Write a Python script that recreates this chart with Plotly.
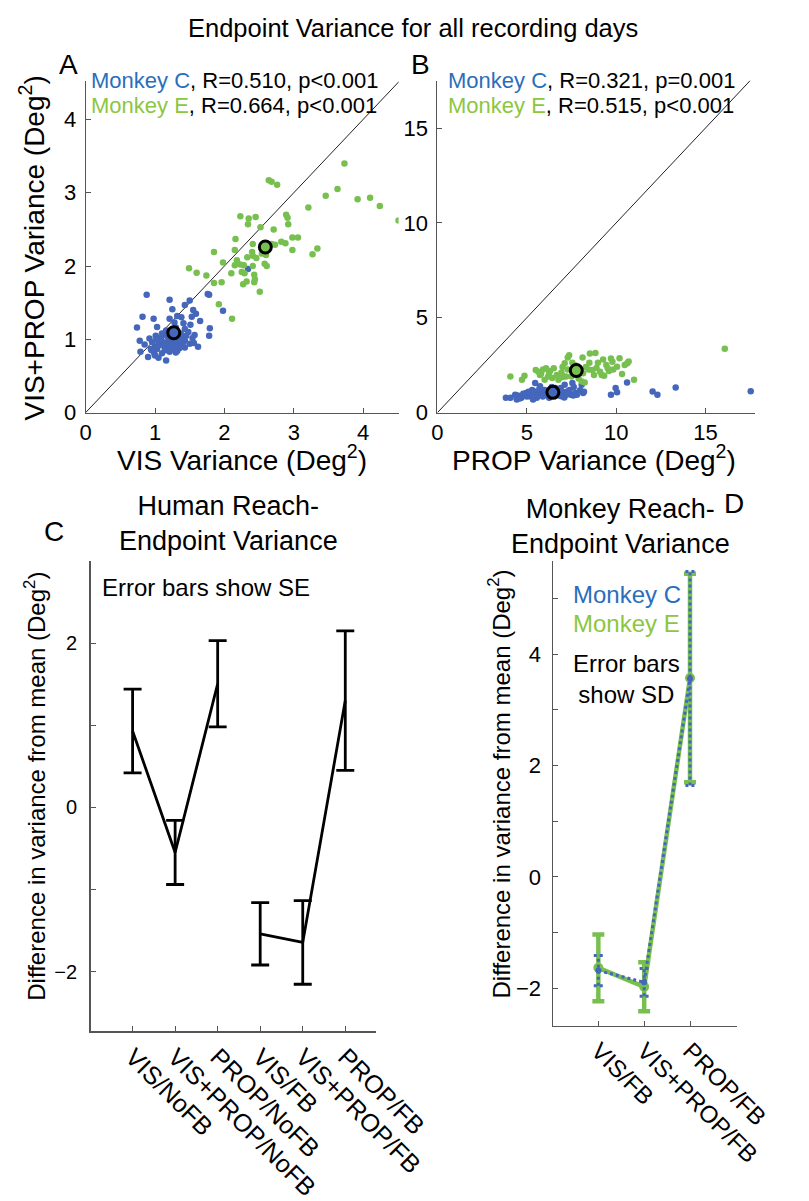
import plotly.graph_objects as go

W, H = 809, 1201
FONT = "Liberation Sans, Arial, sans-serif"
BLUE_PT = "#4466bb"
GREEN_PT = "#77c04f"
BLUE_TXT = "#2a6ebb"
GREEN_TXT = "#8dc63f"
AXC = "#555555"

# ---------------- Panel A data: VIS variance vs VIS+PROP variance ----------------
a_c_vis = [0.88,1.21,1.50,1.43,1.76,1.78,1.25,1.55,1.59,1.53,1.65,0.82,0.98,1.32,0.74,1.03,1.28,1.41,1.51,1.43,
           1.79,1.78,1.57,0.78,0.92,1.01,1.12,1.54,1.62,1.56,1.43,1.34,1.21,1.12,1.03,0.94,0.85,0.79,0.90,1.05,
           1.16,1.32,1.43,1.21,1.10,1.50,0.99,1.25,1.08,1.19,1.39,1.48,1.30,1.16,1.21,1.38,1.98,2.34,
           1.10,1.20,1.30,1.15,1.25,1.35,1.00,1.05,1.40,1.20,1.10,1.30,1.00,0.95,1.45,1.35,1.06,1.14,1.24,1.29,
           1.37,0.96,1.18,1.27,1.33,1.09,1.22,1.42,1.02,1.16]
a_c_vp = [1.61,1.54,1.53,1.47,1.62,1.61,1.41,1.40,1.35,1.31,1.25,1.31,1.28,1.32,1.16,1.17,1.23,1.22,1.20,1.14,
          1.15,1.05,1.06,0.98,1.01,1.05,1.06,1.02,0.90,0.95,0.98,0.93,0.90,0.96,0.87,0.87,0.93,0.83,0.76,0.75,
          0.71,0.84,0.89,0.83,0.81,0.94,0.81,0.96,1.01,1.03,1.05,1.10,1.16,1.12,1.28,1.30,1.39,1.96,
          0.95,1.00,1.05,0.85,0.90,1.00,0.90,0.95,0.95,1.10,1.08,0.82,0.78,0.85,1.05,0.88,0.92,0.88,0.98,0.93,
          1.08,0.96,1.04,0.86,0.97,0.99,0.92,1.00,1.00,0.94]
a_e_vis = [3.73,3.63,3.46,3.92,4.10,4.24,4.51,3.21,2.64,2.68,2.76,2.23,2.35,2.45,2.34,2.52,2.89,2.91,2.92,2.71,
           2.16,2.15,2.41,2.55,2.54,2.68,2.73,2.82,2.88,2.98,3.06,2.98,3.27,3.34,1.85,1.98,2.18,2.28,2.40,2.41,
           2.33,2.46,2.60,2.58,2.61,2.15,2.23,2.41,2.10,2.25,2.29,2.43,2.44,2.32,2.27,1.74,1.60,1.49,1.85,1.96,
           2.43,2.51,1.92,2.11,2.60]
a_e_vp = [3.40,3.05,2.96,2.91,2.93,2.82,2.62,2.80,3.17,3.15,3.11,2.68,2.65,2.67,2.57,2.53,2.70,2.66,2.57,2.50,
          2.37,2.22,2.30,2.26,2.17,2.30,2.29,2.33,2.31,2.39,2.39,2.22,2.16,2.24,2.19,2.05,2.08,2.01,2.19,2.14,
          2.12,2.11,2.15,2.03,2.00,2.01,2.02,2.00,1.90,1.92,1.90,1.88,1.82,1.79,1.75,1.87,1.91,1.97,1.77,1.78,
          1.78,1.65,1.48,1.28,2.22]
a_mean_c = (1.27, 1.09)
a_mean_e = (2.59, 2.26)
a_max = 4.53

# ---------------- Panel B data: PROP variance vs VIS+PROP variance ----------------
b_c_prop = [3.83,4.09,4.35,4.44,4.70,4.96,5.13,5.39,5.47,5.74,5.56,5.91,6.08,6.25,6.60,6.86,7.03,7.12,7.29,7.55,
            7.63,7.72,7.98,8.15,8.07,7.46,6.94,6.42,9.71,9.97,10.05,10.61,12.04,12.31,13.33,17.53,
            4.5,4.8,5.0,5.2,5.3,5.5,5.6,5.8,5.9,6.0,6.1,6.2,6.3,6.5,6.7,6.8,7.0,7.2,7.4,7.6,8.2,
            4.6,5.1,5.7,6.4,6.9,7.1,7.8,5.35]
b_c_vp = [0.78,0.78,0.95,0.69,0.78,1.04,0.87,1.13,1.56,1.39,0.78,0.95,1.13,0.78,1.30,1.21,1.91,1.47,1.13,1.56,
          1.35,1.04,1.18,1.04,1.47,0.95,0.87,0.95,0.95,1.30,1.07,1.59,1.11,0.95,1.33,1.13,
          0.9,1.0,0.85,0.95,1.2,1.0,0.9,1.1,0.85,1.2,0.95,1.05,0.9,1.2,1.0,0.9,1.1,0.95,1.2,0.9,1.1,
          0.75,1.1,1.25,1.35,1.3,0.8,0.95,0.7]
b_e_prop = [4.08,4.73,4.87,5.65,5.91,6.08,6.25,6.51,6.68,6.94,6.42,7.12,7.37,7.29,7.55,8.12,8.53,8.84,8.50,8.98,
            9.27,9.71,9.79,10.19,10.48,10.62,9.45,9.53,9.10,8.46,8.67,8.76,9.33,9.84,10.33,8.15,8.07,8.24,11.0,7.29,
            7.50,6.0,5.74,6.77,7.20,7.81,9.19,10.05,16.08,
            5.8,6.3,6.9,7.0,7.7,8.3,8.9,9.6,6.2,5.5,7.9,10.7]
b_e_vp = [1.91,1.73,1.94,2.16,2.28,2.34,2.11,2.34,1.99,2.11,1.82,2.60,3.03,2.91,2.63,2.91,3.12,3.15,2.63,2.63,
          2.80,2.86,2.68,2.87,2.51,2.60,2.51,2.34,2.16,2.28,2.25,1.99,1.94,2.28,2.04,2.08,1.64,1.59,1.73,2.28,
          1.91,1.73,1.99,1.73,1.91,2.11,1.99,2.42,3.37,
          2.05,2.2,1.85,2.4,2.5,2.4,2.35,2.2,1.9,2.25,1.8,2.7]
b_mean_c = (6.46, 1.07)
b_mean_e = (7.77, 2.22)
b_xmax = 17.77
b_ymax = 17.5

# ---------------- Panel C data: human ----------------
c_cats = ["VIS/NoFB", "VIS+PROP/NoFB", "PROP/NoFB", "VIS/FB", "VIS+PROP/FB", "PROP/FB"]
c_mean = [0.93, -0.55, 1.505, -1.54, -1.645, 1.30]
c_se = [0.51, 0.39, 0.525, 0.38, 0.51, 0.85]

# ---------------- Panel D data: monkeys ----------------
d_cats = ["VIS/FB", "VIS+PROP/FB", "PROP/FB"]
d_mean_c = [-1.68, -1.89, 3.56]
d_sd_c = [0.27, 0.25, 1.92]
d_mean_e = [-1.63, -1.97, 3.57]
d_sd_e = [0.60, 0.44, 1.87]

c_pos = list(range(1, len(c_cats) + 1))
d_pos = list(range(1, len(d_cats) + 1))


def px(x):
    return x / W


def py(y):
    return 1 - y / H


fig = go.Figure()

# Panel A
fig.add_trace(go.Scatter(x=[0, a_max], y=[0, a_max], mode="lines", line=dict(color="#222", width=1),
                         xaxis="x", yaxis="y", hoverinfo="skip"))
fig.add_trace(go.Scatter(x=a_c_vis, y=a_c_vp, mode="markers", marker=dict(color=BLUE_PT, size=6.5),
                         xaxis="x", yaxis="y"))
fig.add_trace(go.Scatter(x=a_e_vis, y=a_e_vp, mode="markers", marker=dict(color=GREEN_PT, size=6.5),
                         xaxis="x", yaxis="y"))
for (mx, my), col in [(a_mean_c, BLUE_PT), (a_mean_e, GREEN_PT)]:
    fig.add_trace(go.Scatter(x=[mx], y=[my], mode="markers",
                             marker=dict(color=col, size=12, line=dict(color="black", width=3)),
                             xaxis="x", yaxis="y"))

# Panel B
diag_b = min(b_xmax, b_ymax)
fig.add_trace(go.Scatter(x=[0, diag_b], y=[0, diag_b], mode="lines", line=dict(color="#222", width=1),
                         xaxis="x2", yaxis="y2", hoverinfo="skip"))
fig.add_trace(go.Scatter(x=b_c_prop, y=b_c_vp, mode="markers", marker=dict(color=BLUE_PT, size=6.5),
                         xaxis="x2", yaxis="y2"))
fig.add_trace(go.Scatter(x=b_e_prop, y=b_e_vp, mode="markers", marker=dict(color=GREEN_PT, size=6.5),
                         xaxis="x2", yaxis="y2"))
for (mx, my), col in [(b_mean_c, BLUE_PT), (b_mean_e, GREEN_PT)]:
    fig.add_trace(go.Scatter(x=[mx], y=[my], mode="markers",
                             marker=dict(color=col, size=12, line=dict(color="black", width=3)),
                             xaxis="x2", yaxis="y2"))

# Panel C: two connected groups of three
for sl in (slice(0, 3), slice(3, 6)):
    fig.add_trace(go.Scatter(x=c_pos[sl], y=c_mean[sl], mode="lines",
                             line=dict(color="black", width=2.8),
                             error_y=dict(type="data", array=c_se[sl], color="black", thickness=2.8, width=9),
                             xaxis="x3", yaxis="y3"))

# Panel D: green solid under blue dotted
fig.add_trace(go.Scatter(x=d_pos, y=d_mean_e, mode="lines+markers",
                         line=dict(color=GREEN_PT, width=4.5),
                         marker=dict(color=GREEN_PT, size=10),
                         error_y=dict(type="data", array=d_sd_e, color=GREEN_PT, thickness=4.5, width=6),
                         xaxis="x4", yaxis="y4"))
eb_x, eb_y = [], []
cap = 0.1
for p, m, e in zip(d_pos, d_mean_c, d_sd_c):
    eb_x += [p, p, None, p - cap, p + cap, None, p - cap, p + cap, None]
    eb_y += [m - e, m + e, None, m + e, m + e, None, m - e, m - e, None]
fig.add_trace(go.Scatter(x=eb_x, y=eb_y, mode="lines", line=dict(color=BLUE_PT, width=3, dash="dot"),
                         xaxis="x4", yaxis="y4", hoverinfo="skip"))
fig.add_trace(go.Scatter(x=d_pos, y=d_mean_c, mode="lines+markers",
                         line=dict(color=BLUE_PT, width=3, dash="dot"),
                         marker=dict(color=BLUE_PT, size=6),
                         xaxis="x4", yaxis="y4"))

base_axis = dict(showgrid=False, zeroline=False, showline=True, linecolor=AXC, linewidth=1,
                 ticks="inside", ticklen=5, tickcolor=AXC, tickwidth=1,
                 tickfont=dict(family=FONT, size=22, color="black"))
minor_in = dict(ticks="inside", ticklen=5, tickcolor=AXC, tickwidth=1, showgrid=False)

fig.update_layout(
    width=W, height=H, margin=dict(l=0, r=0, t=0, b=0),
    paper_bgcolor="white", plot_bgcolor="white", showlegend=False,
    font=dict(family=FONT, color="black"),
    xaxis=dict(base_axis, domain=[px(86), px(424)], range=[0, 4.51], anchor="y",
               tickvals=[0, 1, 2, 3, 4]),
    yaxis=dict(base_axis, domain=[py(420), py(82)], range=[0, a_max], anchor="x",
               tickvals=[0, 1, 2, 3, 4], ticklabelstandoff=4),
    xaxis2=dict(base_axis, domain=[px(466), 1.0], range=[0, b_xmax], anchor="y2",
                tickvals=[0, 5, 10, 15]),
    yaxis2=dict(base_axis, domain=[py(420), py(82)], range=[0, b_ymax], anchor="x2",
                tickvals=[0, 5, 10, 15], ticklabelstandoff=4),
    xaxis3=dict(base_axis, domain=[px(91.7), px(400)], range=[0.02, 6.73], anchor="y3",
                tickvals=c_pos, ticktext=c_cats, tickangle=45, linewidth=1.5,
                tickfont=dict(family=FONT, size=25, color="black")),
    yaxis3=dict(base_axis, domain=[py(1049), py(571)], range=[-2.72, 3.0], anchor="x3", linewidth=1.5,
                tickvals=[-2, 0, 2], ticklabelstandoff=8,
                minor=dict(minor_in, tickvals=[-1, 1]),
                tickfont=dict(family=FONT, size=20, color="black")),
    xaxis4=dict(base_axis, domain=[px(590.3), px(789.3)], range=[0, 4.02], anchor="y4",
                tickvals=d_pos, ticktext=d_cats, tickangle=45,
                tickfont=dict(family=FONT, size=24, color="black")),
    yaxis4=dict(base_axis, domain=[py(1044.6), py(571)], range=[-2.68, 5.67], anchor="x4",
                tickvals=[-2, 0, 2, 4], ticktext=["\u22122", "0", "2", "4"],
                minor=dict(minor_in, tickvals=[-1, 1, 3, 5]),
                ticklabelstandoff=6),
)


def ann(text, x, y, size, xanchor="center", color="black", angle=0):
    fig.add_annotation(text=text, x=px(x), y=py(y), xref="paper", yref="paper",
                       xanchor=xanchor, yanchor="middle", showarrow=False, textangle=angle,
                       font=dict(family=FONT, size=size, color=color))


ann("Endpoint Variance for all recording days", 440, 28, 25.5)
ann("A", 68, 66, 28)
ann("B", 448, 66, 28)
ann(f"<span style='color:{BLUE_TXT}'>Monkey C</span>, R=0.510, p&lt;0.001", 90, 82, 22, xanchor="left")
ann(f"<span style='color:{GREEN_TXT}'>Monkey E</span>, R=0.664, p&lt;0.001", 90, 107, 22, xanchor="left")
ann(f"<span style='color:{BLUE_TXT}'>Monkey C</span>, R=0.321, p=0.001", 475, 82, 22, xanchor="left")
ann(f"<span style='color:{GREEN_TXT}'>Monkey E</span>, R=0.515, p&lt;0.001", 475, 107, 22, xanchor="left")
ann("VIS Variance (Deg<sup>2</sup>)", 255, 466, 28)
ann("PROP Variance (Deg<sup>2</sup>)", 635, 466, 28)
ann("VIS+PROP Variance (Deg<sup>2</sup>)", 28, 252, 28, angle=-90)

ann("C", 52, 541, 28)
ann("Human Reach-<br>Endpoint Variance", 240, 533, 27)
ann("Error bars show SE", 102, 598, 24, xanchor="left")
ann("Difference in variance from mean (Deg<sup>2</sup>)", 31, 800, 24, angle=-90)

ann("D", 786, 512, 28)
ann("Monkey Reach-<br>Endpoint Variance", 664, 536, 27)
ann("Monkey C", 610, 605, 24, xanchor="left", color=BLUE_TXT)
ann("Monkey E", 610, 635, 24, xanchor="left", color=GREEN_TXT)
ann("Error bars<br>show SD", 610, 691, 24, xanchor="left")
ann("Difference in variance from mean (Deg<sup>2</sup>)", 533, 798, 24, angle=-90)

fig.write_html("out.html")
